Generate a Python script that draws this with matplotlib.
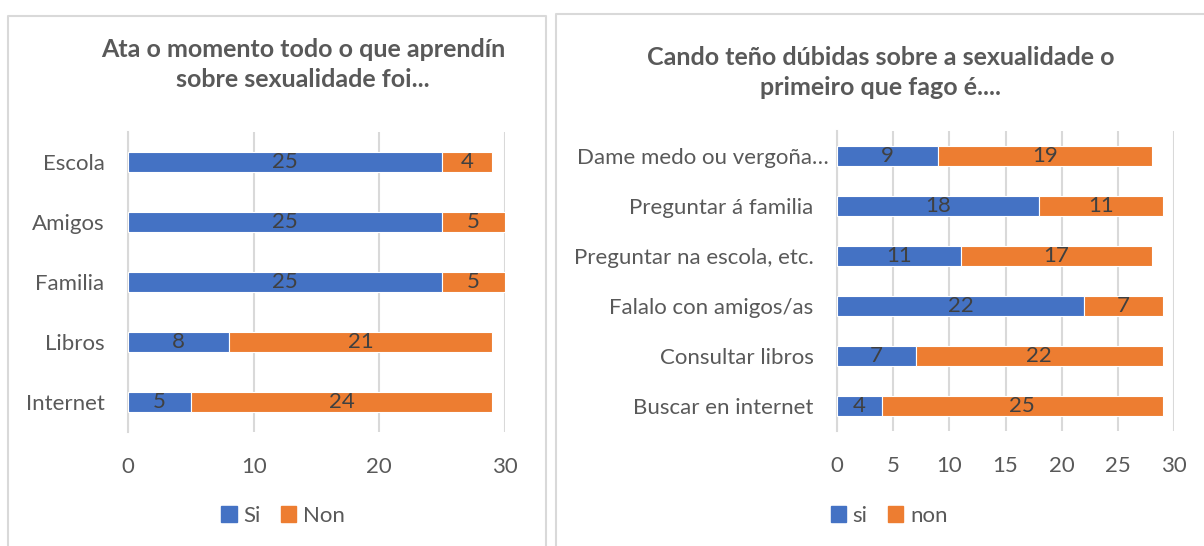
import matplotlib.pyplot as plt
import matplotlib.transforms as mtransforms
from matplotlib.lines import Line2D
from matplotlib.patches import Patch

plt.rcParams['font.family'] = ['Lato', 'DejaVu Sans']

# ------------------------------
# Data
# ------------------------------
left_title = ['Ata o momento todo o que aprendín', 'sobre sexualidade foi...']
left_cats = ['Internet', 'Libros', 'Familia', 'Amigos', 'Escola']
left_si = [5, 8, 25, 25, 25]
left_non = [24, 21, 5, 5, 4]
left_ticks = [0, 10, 20, 30]

right_title = ['Cando teño dúbidas sobre a sexualidade o', 'primeiro que fago é....']
right_cats = ['Buscar en internet', 'Consultar libros', 'Falalo con amigos/as',
              'Preguntar na escola, etc.', 'Preguntar á familia', 'Dame medo ou vergoña…']
right_si = [4, 7, 22, 11, 18, 9]
right_non = [25, 22, 7, 17, 11, 19]
right_ticks = [0, 5, 10, 15, 20, 25, 30]

BLUE = '#4472C4'
ORANGE = '#ED7D31'
GRID = '#D9D9D9'
TXT = '#595959'
LBL = '#404040'
FS = 16

W, H = 1204, 546
fig = plt.figure(figsize=(W / 100, H / 100), dpi=100)


def px_axes(x0, y0, x1, y1):
    return fig.add_axes([x0 / W, 1 - y1 / H, (x1 - x0) / W, (y1 - y0) / H])


def draw_chart(ax, cats, si, non, ticks, bar_h, names):
    y = range(len(cats))
    b1 = ax.barh(y, si, height=bar_h, color=BLUE, edgecolor='white', linewidth=0.8, zorder=3)
    b2 = ax.barh(y, non, left=si, height=bar_h, color=ORANGE, edgecolor='white', linewidth=0.8, zorder=3)
    for bars in (b1, b2):
        ax.bar_label(bars, label_type='center', fontsize=FS, color=LBL)
    ax.set_xlim(0, 30)
    ax.set_ylim(-0.5, len(cats) - 0.5)
    ax.set_xticks(ticks)
    ax.set_yticks(list(y))
    ax.set_yticklabels(cats)
    ax.grid(axis='x', color=GRID, lw=1.5, zorder=0)
    for s in ['top', 'right', 'bottom']:
        ax.spines[s].set_visible(False)
    ax.spines['left'].set_color(GRID)
    ax.spines['left'].set_linewidth(1.5)
    ax.tick_params(axis='both', length=0, labelsize=FS, colors=TXT)
    ax.tick_params(axis='y', pad=17)
    ax.tick_params(axis='x', pad=18)
    return [Patch(color=BLUE, label=names[0]), Patch(color=ORANGE, label=names[1])]


def title(lines, xc, baselines):
    for txt, yb in zip(lines, baselines):
        fig.text(xc / W, 1 - yb / H, txt, ha='center', va='baseline', fontsize=18,
                 fontweight='bold', color=TXT)


def legend(handles, xc):
    fig.legend(handles=handles, loc='center', bbox_to_anchor=(xc / W, 1 - 516 / H), ncol=2,
               frameon=False, fontsize=FS, labelcolor=TXT, handlelength=0.7, handleheight=0.7,
               handletextpad=0.3, columnspacing=0.9)


# ------------------------------
# Chart boxes
# ------------------------------
for xs, ys in [([8, 8, 546, 546], [546, 16, 16, 546]),
               ([556, 556, 1204], [546, 14, 14])]:
    fig.add_artist(Line2D([x / W for x in xs], [1 - v / H for v in ys],
                          color=GRID, lw=1.5, transform=fig.transFigure))

# ------------------------------
# Left chart
# ------------------------------
ax1 = px_axes(128, 132, 505, 432)
h1 = draw_chart(ax1, left_cats, left_si, left_non, left_ticks, 0.33, ['Si', 'Non'])
title(left_title, 303, [57, 87])
legend(h1, 283)

# ------------------------------
# Right chart
# ------------------------------
ax2 = px_axes(837, 131, 1174, 431)
h2 = draw_chart(ax2, right_cats, right_si, right_non, right_ticks, 0.4, ['si', 'non'])
# the truncated label sits a bit closer to the axis
last = ax2.get_yticklabels()[-1]
last.set_transform(last.get_transform() + mtransforms.ScaledTranslation(15 / 100, 0, fig.dpi_scale_trans))
title(right_title, 881, [65, 95])
legend(h2, 889)

fig.savefig('out.png', dpi=100)
